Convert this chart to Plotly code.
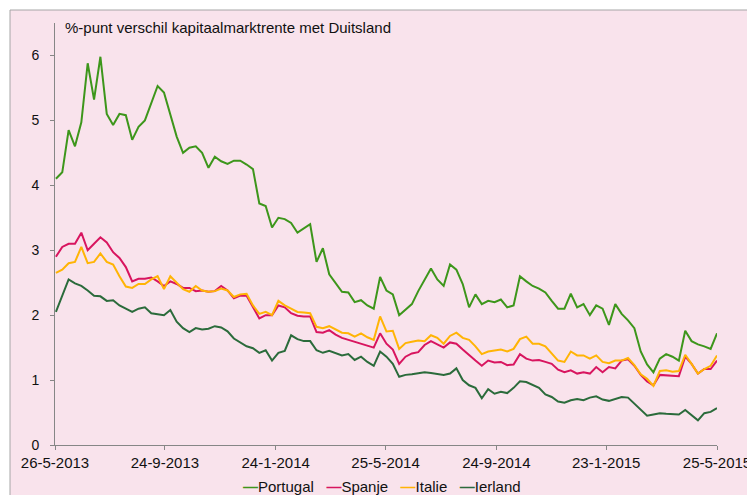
import pandas as pd
import plotly.graph_objects as go

# weekly observations, 27-5-2013 .. 25-5-2015
DATES = pd.date_range("2013-05-27", periods=105, freq="7D")

PORTUGAL = [
    4.10, 4.20, 4.85, 4.60, 4.97, 5.88, 5.32, 5.98, 5.10, 4.93,
    5.10, 5.08, 4.70, 4.90, 5.00, 5.25, 5.53, 5.43, 5.10, 4.75,
    4.50, 4.58, 4.60, 4.50, 4.27, 4.44, 4.37, 4.33, 4.38, 4.38,
    4.32, 4.25, 3.72, 3.68, 3.35, 3.50, 3.48, 3.42, 3.27, 3.34,
    3.40, 2.82, 3.03, 2.63, 2.50, 2.36, 2.35, 2.20, 2.23, 2.15,
    2.10, 2.59, 2.38, 2.32, 2.00, 2.08, 2.17, 2.37, 2.55, 2.72,
    2.55, 2.45, 2.78, 2.70, 2.48, 2.12, 2.32, 2.17, 2.22, 2.20,
    2.24, 2.12, 2.15, 2.60, 2.52, 2.45, 2.41, 2.35, 2.22, 2.10,
    2.10, 2.33, 2.12, 2.17, 2.00, 2.15, 2.10, 1.85, 2.17, 2.02,
    1.92, 1.80, 1.44, 1.24, 1.12, 1.33, 1.40, 1.36, 1.30, 1.76,
    1.60, 1.55, 1.52, 1.48, 1.72,
]
SPANJE = [
    2.90, 3.05, 3.10, 3.10, 3.27, 3.00, 3.10, 3.20, 3.12, 2.97,
    2.88, 2.74, 2.52, 2.56, 2.56, 2.58, 2.52, 2.45, 2.52, 2.48,
    2.42, 2.42, 2.37, 2.38, 2.36, 2.37, 2.45, 2.38, 2.26, 2.30,
    2.30, 2.12, 1.95, 2.00, 2.00, 2.15, 2.12, 2.03, 1.99, 1.98,
    1.98, 1.74, 1.73, 1.77, 1.70, 1.65, 1.62, 1.59, 1.56, 1.52,
    1.50, 1.72, 1.56, 1.47, 1.25, 1.36, 1.41, 1.43, 1.54, 1.60,
    1.55, 1.50, 1.58, 1.56, 1.47, 1.38, 1.30, 1.22, 1.30, 1.27,
    1.28, 1.23, 1.24, 1.40, 1.33, 1.30, 1.31, 1.28, 1.25, 1.16,
    1.12, 1.15, 1.10, 1.12, 1.10, 1.20, 1.12, 1.20, 1.18, 1.30,
    1.32, 1.22, 1.08, 0.98, 0.92, 1.08, 1.07, 1.07, 1.06, 1.36,
    1.25, 1.10, 1.17, 1.17, 1.30,
]
ITALIE = [
    2.65, 2.70, 2.80, 2.82, 3.05, 2.80, 2.82, 2.95, 2.82, 2.78,
    2.60, 2.44, 2.42, 2.48, 2.48, 2.55, 2.60, 2.40, 2.60, 2.50,
    2.40, 2.36, 2.45, 2.38, 2.36, 2.37, 2.41, 2.38, 2.28, 2.32,
    2.33, 2.15, 2.02, 2.05, 2.00, 2.22, 2.15, 2.10, 2.05, 2.04,
    2.03, 1.82, 1.80, 1.83, 1.78, 1.73, 1.72, 1.67, 1.72, 1.66,
    1.62, 1.98, 1.75, 1.76, 1.48, 1.57, 1.59, 1.61, 1.60, 1.69,
    1.65, 1.56, 1.68, 1.73, 1.65, 1.62, 1.52, 1.40, 1.44, 1.45,
    1.47, 1.44, 1.48, 1.63, 1.67, 1.56, 1.56, 1.52, 1.41, 1.30,
    1.28, 1.44, 1.38, 1.38, 1.33, 1.38, 1.28, 1.26, 1.30, 1.30,
    1.34, 1.23, 1.09, 1.02, 0.91, 1.14, 1.15, 1.13, 1.14, 1.39,
    1.25, 1.10, 1.17, 1.22, 1.38,
]
IERLAND = [
    2.05, 2.30, 2.55, 2.49, 2.45, 2.38, 2.30, 2.29, 2.22, 2.23,
    2.15, 2.10, 2.05, 2.10, 2.12, 2.03, 2.02, 2.00, 2.08, 1.90,
    1.80, 1.74, 1.80, 1.78, 1.79, 1.83, 1.81, 1.75, 1.64, 1.58,
    1.52, 1.49, 1.42, 1.46, 1.30, 1.42, 1.45, 1.69, 1.63, 1.60,
    1.60, 1.46, 1.42, 1.45, 1.42, 1.38, 1.40, 1.31, 1.36, 1.28,
    1.22, 1.44, 1.36, 1.25, 1.05, 1.08, 1.09, 1.10, 1.12, 1.11,
    1.10, 1.08, 1.10, 1.18, 1.00, 0.92, 0.88, 0.72, 0.86, 0.79,
    0.82, 0.80, 0.88, 0.98, 0.97, 0.93, 0.88, 0.78, 0.74, 0.67,
    0.65, 0.69, 0.71, 0.69, 0.73, 0.75, 0.70, 0.68, 0.71, 0.74,
    0.73, 0.64, 0.54, 0.45, 0.47, 0.49, 0.48, 0.48, 0.47, 0.54,
    0.46, 0.38, 0.49, 0.51, 0.57,
]

TICK_DATES = ["2013-05-26", "2013-09-24", "2014-01-24", "2014-05-25",
              "2014-09-24", "2015-01-23", "2015-05-25"]
TICK_TEXT = ["26-5-2013", "24-9-2013", "24-1-2014", "25-5-2014",
             "24-9-2014", "23-1-2015", "25-5-2015"]

SERIES = [
    ("Portugal", PORTUGAL, "#3D961B"),
    ("Spanje", SPANJE, "#D8155F"),
    ("Italie", ITALIE, "#FFB405"),
    ("Ierland", IERLAND, "#2B6B3B"),
]

FONT = "Liberation Sans, Arial, sans-serif"
PINK = "#F9E3EC"
AXIS_GREY = "#868686"

# the page body adds an 8px margin, so the figure is 8px smaller each way
W, H = 747, 487
PLOT_L, PLOT_T, PLOT_W, PLOT_H = 47, 15, 662, 422

fig = go.Figure()
for name, values, color in SERIES:
    fig.add_trace(go.Scatter(
        x=DATES, y=values, name=name, mode="lines",
        line=dict(color=color, width=2),
    ))

# legend drawn as one line of text: coloured dash + name
legend_html = "&nbsp;&nbsp;&nbsp;".join(
    f'<span style="color:{color}"><b>—</b></span>{name}' for name, _, color in SERIES
)

fig.update_layout(
    width=W, height=H,
    margin=dict(l=PLOT_L, r=W - PLOT_L - PLOT_W, t=PLOT_T, b=H - PLOT_T - PLOT_H),
    paper_bgcolor="white",
    plot_bgcolor="rgba(0,0,0,0)",
    font=dict(family=FONT, size=14, color="#111111"),
    showlegend=False,
    title=dict(
        text="%-punt verschil kapitaalmarktrente met Duitsland",
        x=57 / W, xanchor="left", xref="container",
        y=1 - 20 / H, yanchor="middle", yref="container",
        font=dict(family=FONT, size=15, color="#111111"),
    ),
    xaxis=dict(
        type="date",
        range=["2013-05-26", "2015-05-25"],
        tickvals=TICK_DATES, ticktext=TICK_TEXT,
        showgrid=False, zeroline=False,
        showline=True, linecolor=AXIS_GREY, linewidth=1,
        ticks="outside", ticklen=4, tickcolor=AXIS_GREY,
        tickfont=dict(size=15),
        automargin=False,
    ),
    yaxis=dict(
        range=[0, 6.5],
        tickvals=[0, 1, 2, 3, 4, 5, 6],
        showgrid=False, zeroline=False,
        showline=True, linecolor=AXIS_GREY, linewidth=1,
        ticks="outside", ticklen=4, tickcolor=AXIS_GREY,
        ticklabelstandoff=8,
        tickfont=dict(size=14),
        automargin=False,
    ),
    shapes=[dict(
        type="rect", xref="paper", yref="paper", layer="below",
        x0=(2 - PLOT_L) / PLOT_W, x1=1.2,
        y0=-0.3, y1=(PLOT_T + PLOT_H - 2) / PLOT_H,
        fillcolor=PINK, line=dict(color="#A6A6A6", width=1),
    )],
    annotations=[dict(
        text=legend_html, showarrow=False,
        xref="paper", yref="paper",
        x=(374 - PLOT_L) / PLOT_W, xanchor="center",
        y=(PLOT_T + PLOT_H - 478) / PLOT_H, yanchor="middle",
        font=dict(family=FONT, size=15, color="#111111"),
    )],
)

fig.write_html("out.html")
